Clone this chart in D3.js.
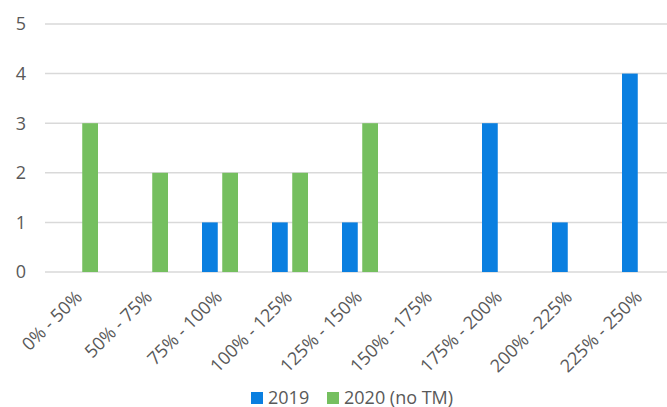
<!DOCTYPE html>
<html>
<head>
<meta charset="utf-8">
<script src="https://cdn.jsdelivr.net/npm/d3@7"></script>
<style>
  html, body { margin: 0; padding: 0; background: #fff; }
  svg { display: block; font-family: "Open Sans", sans-serif; }
</style>
</head>
<body>
<svg id="chart" width="667" height="407"></svg>
<script>
// Distribution of ratios, grouped into 25-point buckets
const categories = ["0% - 50%", "50% - 75%", "75% - 100%", "100% - 125%", "125% - 150%",
                    "150% - 175%", "175% - 200%", "200% - 225%", "225% - 250%"];
const seriesNames = ["2019", "2020 (no TM)"];
const values2019 = [0, 0, 1, 1, 1, 0, 3, 1, 4];
const values2020 = [3, 2, 2, 2, 3, 0, 0, 0, 0];
const yTicks = [0, 1, 2, 3, 4, 5];
const colors = ["#0A7FE0", "#75BF5F"];

const svg = d3.select("#chart");
const plotLeft = 45, plotRight = 675, plotTop = 24, plotBottom = 272;

const x = d3.scaleBand().domain(categories).range([plotLeft, plotRight]).paddingInner(0).paddingOuter(0);
const inner = d3.scaleBand().domain(seriesNames).range([17, 53]).paddingInner(0.222);
const y = d3.scaleLinear().domain([0, 5]).range([plotBottom, plotTop]);

// gridlines
svg.append("g")
  .selectAll("line")
  .data(yTicks)
  .join("line")
  .attr("x1", plotLeft).attr("x2", 667)
  .attr("y1", d => y(d)).attr("y2", d => y(d))
  .attr("stroke", "#d9d9d9")
  .attr("stroke-width", 1.5);

// y tick labels
svg.append("g")
  .selectAll("text")
  .data(yTicks)
  .join("text")
  .attr("x", 26)
  .attr("y", d => y(d))
  .attr("dy", "0.35em")
  .attr("text-anchor", "end")
  .attr("font-size", 18)
  .attr("fill", "#595959")
  .text(d => d);

// bars
const rows = categories.map((c, i) => ({ c, vals: [values2019[i], values2020[i]] }));
const groups = svg.append("g")
  .selectAll("g")
  .data(rows)
  .join("g")
  .attr("transform", d => `translate(${x(d.c)},0)`);

groups.selectAll("rect")
  .data(d => d.vals.map((v, k) => ({ s: seriesNames[k], v, k })).filter(e => e.v > 0))
  .join("rect")
  .attr("x", e => inner(e.s))
  .attr("width", inner.bandwidth())
  .attr("y", e => y(e.v))
  .attr("height", e => y(0) - y(e.v))
  .attr("fill", e => colors[e.k]);

// category labels, rotated
svg.append("g")
  .selectAll("text")
  .data(categories)
  .join("text")
  .attr("transform", d => `translate(${x(d) + x.bandwidth() / 2 - 6},289) rotate(-45)`)
  .attr("text-anchor", "end")
  .attr("dy", "0.72em")
  .attr("font-size", 18)
  .attr("fill", "#595959")
  .text(d => d);

// legend
const legendPos = [251, 327];
const legend = svg.append("g")
  .selectAll("g")
  .data(seriesNames)
  .join("g")
  .attr("transform", (d, i) => `translate(${legendPos[i]},392)`);
legend.append("rect")
  .attr("width", 12).attr("height", 12)
  .attr("fill", (d, i) => colors[i]);
legend.append("text")
  .attr("x", 17).attr("y", 6)
  .attr("dy", "0.35em")
  .attr("font-size", 18)
  .attr("fill", "#595959")
  .text(d => d);
</script>
</body>
</html>
